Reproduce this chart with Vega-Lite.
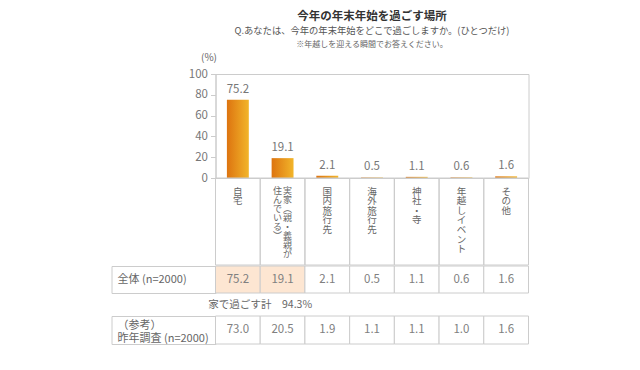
{
  "$schema": "https://vega.github.io/schema/vega-lite/v6.json",
  "padding": {"left": 110.5, "top": 11, "right": 5, "bottom": 5},
  "background": "white",
  "config": {"font": "Noto Sans CJK JP", "view": {"stroke": null}},
  "title": {
    "text": "今年の年末年始を過ごす場所",
    "subtitle": "Q.あなたは、今年の年末年始をどこで過ごしますか。(ひとつだけ)",
    "anchor": "middle", "dx": 52, "fontSize": 11.5, "fontWeight": "bold", "color": "#333",
    "subtitleFontSize": 9.3, "subtitleColor": "#555", "subtitlePadding": 4, "offset": 4
  },
  "datasets": {
    "cats": [
      {"cat": "自宅", "pct": 75.2, "prev": 73.0, "grp": "家"},
      {"cat": "実家(親・義親が住んでいる)", "pct": 19.1, "prev": 20.5, "grp": "家"},
      {"cat": "国内旅行先", "pct": 2.1, "prev": 1.9, "grp": "外"},
      {"cat": "海外旅行先", "pct": 0.5, "prev": 1.1, "grp": "外"},
      {"cat": "神社・寺", "pct": 1.1, "prev": 1.1, "grp": "外"},
      {"cat": "年越しイベント", "pct": 0.6, "prev": 1.0, "grp": "外"},
      {"cat": "その他", "pct": 1.6, "prev": 1.6, "grp": "外"}
    ],
    "vlabels": [
      {"cat": "自宅", "col": "single", "t": "自宅"},
      {"cat": "実家(親・義親が住んでいる)", "col": "right", "t": "実家︵親・義親が"},
      {"cat": "実家(親・義親が住んでいる)", "col": "left", "t": "住んでいる︶"},
      {"cat": "国内旅行先", "col": "single", "t": "国内旅行先"},
      {"cat": "海外旅行先", "col": "single", "t": "海外旅行先"},
      {"cat": "神社・寺", "col": "single", "t": "神社・寺"},
      {"cat": "年越しイベント", "col": "single", "t": "年越しイベント"},
      {"cat": "その他", "col": "single", "t": "その他"}
    ]
  },
  "spacing": -1,
  "vconcat": [
    {
      "spacing": 0, "bounds": "flush",
      "hconcat": [
        {"width": 104, "height": 191, "view": {"fill": "white", "stroke": null}, "data": {"values": [{}]}, "mark": {"type": "text", "text": ""}},
        {
          "spacing": 0, "bounds": "flush",
          "vconcat": [
            {
              "width": 313, "height": 104,
              "view": {"stroke": "#cccccc"},
              "title": {"text": "※年越しを迎える瞬間でお答えください。", "fontSize": 8, "fontWeight": "normal", "color": "#666", "anchor": "middle", "offset": 3.5},
              "data": {"name": "cats"},
              "encoding": {
                "x": {"field": "cat", "type": "nominal", "sort": null,
                      "scale": {"domain": ["自宅", "実家(親・義親が住んでいる)", "国内旅行先", "海外旅行先", "神社・寺", "年越しイベント", "その他"], "paddingInner": 0, "paddingOuter": 0},
                      "axis": null},
                "y": {"field": "pct", "type": "quantitative", "scale": {"domain": [0, 100]},
                      "axis": {"values": [0, 20, 40, 60, 80, 100], "grid": false, "domainColor": "#cccccc", "tickColor": "#cccccc", "tickSize": 5,
                               "labelFontSize": 11.5, "labelColor": "#777", "labelPadding": 3,
                               "title": "(%)", "titleAngle": 0, "titleX": -7, "titleY": -17, "titleAlign": "center", "titleBaseline": "middle",
                               "titleFontSize": 10, "titleFontWeight": "normal", "titleColor": "#666"}}
              },
              "layer": [
                {"mark": {"type": "bar", "width": {"band": 0.49},
                          "color": {"gradient": "linear", "x1": 0, "x2": 1, "y1": 0, "y2": 0,
                                    "stops": [{"offset": 0, "color": "#dd7410"}, {"offset": 1, "color": "#f2b52a"}]}}},
                {"mark": {"type": "text", "baseline": "alphabetic", "dy": -7, "fontSize": 11.5, "color": "#777"},
                 "encoding": {"text": {"field": "pct", "type": "quantitative", "format": ".1f"}}}
              ]
            },
            {
              "width": 313, "height": 87,
              "layer": [
                {"data": {"name": "cats"},
                 "mark": {"type": "rect", "filled": false, "stroke": "#cccccc", "strokeWidth": 1},
                 "encoding": {"x": {"field": "cat", "type": "nominal", "sort": null,
                      "scale": {"type": "band", "domain": ["自宅", "実家(親・義親が住んでいる)", "国内旅行先", "海外旅行先", "神社・寺", "年越しイベント", "その他"], "paddingInner": 0, "paddingOuter": 0},
                      "axis": null}}},
                {"data": {"name": "vlabels"},
                 "transform": [{"filter": "datum.col == 'single'"}, {"calculate": "split(datum.t, '')", "as": "lines"}],
                 "mark": {"type": "text", "baseline": "top", "dy": -35, "fontSize": 9.5, "lineHeight": 9.6, "color": "#666"},
                 "encoding": {"x": {"field": "cat", "type": "nominal", "sort": null,
                      "scale": {"type": "band", "domain": ["自宅", "実家(親・義親が住んでいる)", "国内旅行先", "海外旅行先", "神社・寺", "年越しイベント", "その他"], "paddingInner": 0, "paddingOuter": 0},
                      "axis": null},
                      "text": {"field": "lines", "type": "nominal"}}},
                {"data": {"name": "vlabels"},
                 "transform": [{"filter": "datum.col == 'right'"}, {"calculate": "split(datum.t, '')", "as": "lines"}],
                 "mark": {"type": "text", "baseline": "top", "dy": -35, "dx": 5, "fontSize": 9, "lineHeight": 9, "color": "#666"},
                 "encoding": {"x": {"field": "cat", "type": "nominal", "sort": null,
                      "scale": {"type": "band", "domain": ["自宅", "実家(親・義親が住んでいる)", "国内旅行先", "海外旅行先", "神社・寺", "年越しイベント", "その他"], "paddingInner": 0, "paddingOuter": 0},
                      "axis": null},
                      "text": {"field": "lines", "type": "nominal"}}},
                {"data": {"name": "vlabels"},
                 "transform": [{"filter": "datum.col == 'left'"}, {"calculate": "split(datum.t, '')", "as": "lines"}],
                 "mark": {"type": "text", "baseline": "top", "dy": -35, "dx": -5, "fontSize": 9, "lineHeight": 9, "color": "#666"},
                 "encoding": {"x": {"field": "cat", "type": "nominal", "sort": null,
                      "scale": {"type": "band", "domain": ["自宅", "実家(親・義親が住んでいる)", "国内旅行先", "海外旅行先", "神社・寺", "年越しイベント", "その他"], "paddingInner": 0, "paddingOuter": 0},
                      "axis": null},
                      "text": {"field": "lines", "type": "nominal"}}}
              ]
            }
          ]
        }
      ]
    },
    {
      "spacing": 0, "bounds": "flush",
      "hconcat": [
        {"width": 104, "height": 27, "view": {"stroke": "#cccccc"},
         "data": {"values": [{"r": "全体 (n=2000)"}]},
         "mark": {"type": "text", "align": "left", "dx": 6, "fontSize": 11, "color": "#666"},
         "encoding": {"x": {"field": "r", "type": "nominal", "bandPosition": 0, "scale": {"type": "band", "paddingInner": 0, "paddingOuter": 0}, "axis": null},
                      "text": {"field": "r", "type": "nominal"}}},
        {
          "width": 313, "height": 27,
          "data": {"name": "cats"},
          "encoding": {"x": {"field": "cat", "type": "nominal", "sort": null,
                  "scale": {"type": "band", "domain": ["自宅", "実家(親・義親が住んでいる)", "国内旅行先", "海外旅行先", "神社・寺", "年越しイベント", "その他"], "paddingInner": 0, "paddingOuter": 0},
                  "axis": null}},
          "layer": [
            {"mark": {"type": "rect", "stroke": "#cccccc", "strokeWidth": 1},
             "encoding": {"fill": {"field": "grp", "type": "nominal", "scale": {"domain": ["家", "外"], "range": ["#fde6d2", "#ffffff"]}, "legend": null}}},
            {"mark": {"type": "text", "fontSize": 11.5, "color": "#808080"},
             "encoding": {"text": {"field": "pct", "type": "quantitative", "format": ".1f"}}}
          ]
        }
      ]
    },
    {
      "spacing": 0, "bounds": "flush",
      "hconcat": [
        {"width": 104, "height": 22, "view": {"stroke": "white", "strokeOpacity": 0}, "data": {"values": [{}]}, "mark": {"type": "text", "text": ""}},
        {
          "width": 313, "height": 22,
          "data": {"values": [{"cat": "実家(親・義親が住んでいる)", "note": "家で過ごす計　94.3%"}]},
          "mark": {"type": "text", "fontSize": 10.5, "color": "#666"},
          "encoding": {
            "x": {"field": "cat", "type": "nominal", "bandPosition": 0,
                  "scale": {"type": "band", "domain": ["自宅", "実家(親・義親が住んでいる)", "国内旅行先", "海外旅行先", "神社・寺", "年越しイベント", "その他"], "paddingInner": 0, "paddingOuter": 0},
                  "axis": null},
            "text": {"field": "note", "type": "nominal"}
          }
        }
      ]
    },
    {
      "spacing": 0, "bounds": "flush",
      "hconcat": [
        {"width": 104, "height": 28, "view": {"stroke": "#cccccc"},
         "data": {"values": [{"r": "（参考）\n昨年調査 (n=2000)"}]},
         "mark": {"type": "text", "align": "left", "dx": 6, "dy": -4, "fontSize": 11, "color": "#666", "lineBreak": "\n", "lineHeight": 13},
         "encoding": {"x": {"field": "r", "type": "nominal", "bandPosition": 0, "scale": {"type": "band", "paddingInner": 0, "paddingOuter": 0}, "axis": null},
                      "text": {"field": "r", "type": "nominal"}}},
        {
          "width": 313, "height": 28,
          "data": {"name": "cats"},
          "encoding": {"x": {"field": "cat", "type": "nominal", "sort": null,
                  "scale": {"type": "band", "domain": ["自宅", "実家(親・義親が住んでいる)", "国内旅行先", "海外旅行先", "神社・寺", "年越しイベント", "その他"], "paddingInner": 0, "paddingOuter": 0},
                  "axis": null}},
          "layer": [
            {"mark": {"type": "rect", "stroke": "#cccccc", "strokeWidth": 1, "fill": "#ffffff"}},
            {"mark": {"type": "text", "fontSize": 11.5, "color": "#808080"},
             "encoding": {"text": {"field": "prev", "type": "quantitative", "format": ".1f"}}}
          ]
        }
      ]
    }
  ]
}
